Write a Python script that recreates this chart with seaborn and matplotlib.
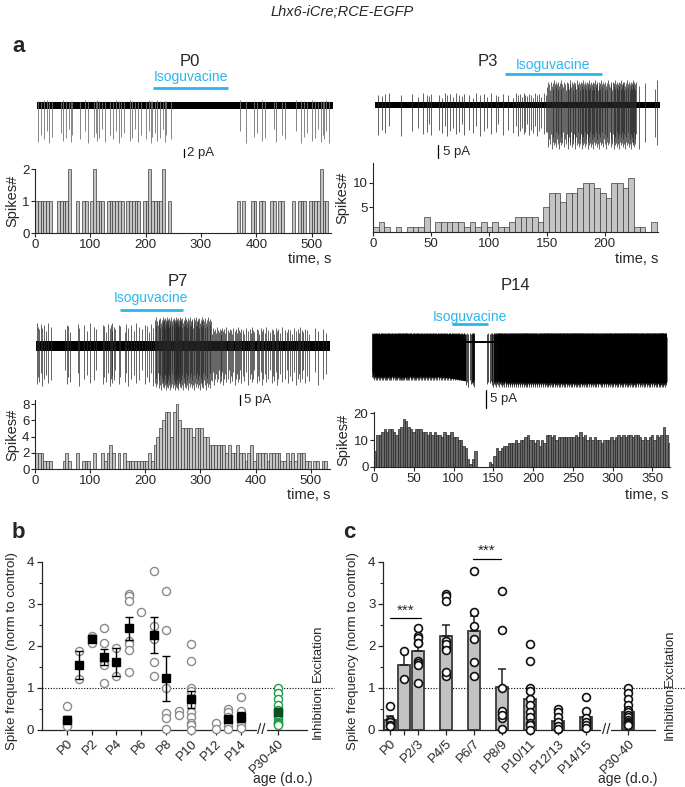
import numpy as np
import pandas as pd
import matplotlib
matplotlib.use('Agg')
import matplotlib.pyplot as plt
import seaborn as sns

sns.set_style('ticks')
plt.rcParams['font.family'] = ['Liberation Sans', 'DejaVu Sans']
narrow = ['Liberation Sans Narrow', 'Liberation Sans', 'DejaVu Sans']

W, H = 685, 787


def px(l, t, r, b):
    # pixel box of the reference -> figure fraction rect
    return [l / W, 1 - b / H, (r - l) / W, (b - t) / H]


# ---------------- panel a: spike histograms (counts per bin) ----------------
p0_bin = 5.0
p0_counts = ([1, 1, 1, 1, 1, 1, 0, 0, 1, 1, 1, 1, 2, 0, 0, 1, 0, 1, 1, 0, 1, 2, 1, 1, 1, 0,
              1, 1, 1, 1, 1, 1, 0, 1, 1, 1, 1, 1, 0, 1, 1, 2, 1, 1, 1, 1, 2, 0, 1]
             + [0] * 24
             + [1, 0, 1, 0, 0, 1, 1, 0, 1, 1, 0, 0, 1, 1, 0, 1, 1, 0, 0, 0, 1, 0, 1, 1, 1, 0,
                1, 1, 1, 1, 2, 1, 1])

p3_bin = 4.9
p3_counts = [1, 2, 1, 0, 1, 0, 1, 1, 1, 3, 0, 2, 2, 2, 2, 2, 1, 2, 1, 2,
             1, 2, 1, 1, 2, 3, 3, 3, 3, 2, 5, 8, 8, 6, 8, 8, 9, 10, 10, 9,
             8, 7, 10, 10, 9, 11, 1, 1, 0, 2]

p7_bin = 5.0
p7_counts = [2, 2, 2, 1, 1, 1, 0, 0, 0, 0, 1, 2, 1, 0, 0, 2, 0, 1, 1, 1,
             0, 2, 0, 0, 2, 1, 2, 3, 2, 0, 2, 0, 2, 1, 1, 1, 1, 1, 1, 1,
             1, 2, 1, 3, 4, 5, 6, 7, 7, 4, 7, 8, 6, 5, 5, 5, 5, 4, 5, 5,
             5, 4, 4, 3, 3, 3, 3, 3, 3, 2, 3, 2, 2, 3, 2, 2, 1, 2, 3, 1,
             2, 2, 2, 2, 1, 2, 2, 2, 2, 1, 1, 2, 1, 2, 1, 2, 2, 2, 1, 1,
             0, 1, 1, 0, 1, 1]

p14_bin = 3.0
p14_counts = [6, 12, 12, 13, 14, 13, 14, 14, 13, 12, 14, 15, 18, 17, 15, 14, 13, 14, 14, 14,
              13, 13, 12, 13, 12, 13, 12, 12, 11, 13, 12, 12, 13, 11, 11, 10, 10, 8, 7, 3,
              1, 3, 6, 0, 0, 0, 0, 0, 2, 1, 4, 7, 6, 7, 8, 8, 9, 9, 9, 10,
              9, 10, 10, 11, 12, 10, 10, 9, 10, 8, 10, 9, 12, 12, 11, 12, 10, 11, 11, 11,
              11, 11, 11, 11, 12, 11, 13, 11, 12, 10, 11, 10, 11, 10, 10, 9, 10, 10, 10, 11,
              10, 11, 12, 11, 12, 11, 12, 12, 11, 12, 12, 11, 10, 11, 10, 11, 12, 10, 12, 11,
              12, 15, 12, 9]

# isoguvacine application windows (s)
iso_p0 = [210, 345]
iso_p3 = [112, 196]
iso_p7 = [153, 267]
iso_p14 = [101, 146]

# spike amplitude spread (relative)
amp_spread = [1.0, 0.82, 0.94, 0.7, 1.05, 0.88, 0.76, 0.97, 0.9, 0.64]
p14_spread = [1.0, 0.95, 1.05, 0.98, 1.09, 0.93, 1.02, 0.97]

# P14 trace envelope (pA)
p14_t1 = [0, 30, 60, 90, 118]
p14_up1 = [2.2, 1.9, 1.7, 1.4, 1.1]
p14_lo1 = [-8.3, -8.9, -9.2, -9.7, -10.8]
p14_t2 = [158, 200, 250, 300, 372]
p14_up2 = [2.5, 1.7, 1.4, 1.4, 1.4]
p14_lo2 = [-10.8, -11.1, -11.4, -11.4, -11.1]

# ---------------- panel b / c data ----------------
b_ages = [0, 1, 2, 3, 4, 5, 6, 7, 8, 9, 10, 12, 13, 14, 17]
b_vals = [
    [0.57, 0.25, 0.20, 0.12, 0.10],
    [1.89, 1.21],
    [2.24, 2.19, 2.07],
    [2.44, 2.08, 1.65, 1.59, 1.55, 1.13],
    [1.95, 1.29],
    [3.24, 3.20, 3.06, 2.12, 2.05, 1.91, 1.39],
    [2.81],
    [3.78, 2.47, 2.16, 1.63, 1.29],
    [3.30, 2.39, 1.01, 0.40, 0.28, 0.02],
    [0.45, 0.36],
    [2.04, 1.65, 1.00, 0.93, 0.75, 0.60, 0.44, 0.30, 0.17, 0.12, 0.00],
    [0.17, 0.02],
    [0.50, 0.44, 0.32, 0.20, 0.10, 0.02],
    [0.78, 0.45, 0.28, 0.20, 0.12, 0.04],
    [1.00, 0.87, 0.73, 0.60, 0.48, 0.42, 0.36, 0.30, 0.25, 0.20, 0.17, 0.15, 0.12],
]
b_mean_ages = [0, 1, 2, 3, 4, 5, 7, 8, 10, 13, 14, 17]
b_ticks = [0, 2, 4, 6, 8, 10, 12, 14, 17]
b_ticklabels = ['P0', 'P2', 'P4', 'P6', 'P8', 'P10', 'P12', 'P14', 'P30-40']

c_groups = ['P0', 'P1', 'P2/3', 'P4/5', 'P6/7', 'P8/9', 'P10/11', 'P12/13', 'P14/15', 'P30-40']
c_pos = [0, 1, 2, 4, 6, 8, 10, 12, 14, 17]
c_members = [[0], [1], [2, 3], [4, 5], [6, 7], [8, 9], [10, 11], [12, 13], [14, 15], [17]]
c_ticklabels = ['P0', '', 'P2/3', 'P4/5', 'P6/7', 'P8/9', 'P10/11', 'P12/13', 'P14/15', 'P30-40']
c_colors = ['#c2c2c2', '#c2c2c2', '#c2c2c2', '#c2c2c2', '#c2c2c2', '#c2c2c2',
            '#b4b4b4', '#8c8c8c', '#8c8c8c', '#1a8a3c']

green = '#1e9a48'
iso_blue = '#29b6ef'


def spike_times(counts, bw):
    t = []
    for i, n in enumerate(counts):
        for k in range(n):
            t.append(i * bw + (k + 0.5) * bw / n)
    return np.array(t)


def draw_spikes(ax, t, edges, depth, height, spread, color, lw):
    idx = np.clip(np.searchsorted(edges, t, side='right') - 1, 0, len(depth) - 1)
    s = np.resize(spread, len(t))
    lo = -np.array(depth)[idx] * s
    hi = np.array(height)[idx] * np.roll(s, 3)
    ax.vlines(t, lo, hi, color=color, lw=lw)


def hist_panel(rect, counts, bw, xlim, ylim, xticks, yticks, color, ec):
    ax = fig.add_axes(rect)
    ax.patch.set_alpha(0)
    n = len(counts)
    hd = pd.DataFrame({'t': (np.arange(n) + 0.5) * bw, 'n': counts})
    sns.histplot(data=hd, x='t', weights='n', binwidth=bw, binrange=(0, n * bw), ax=ax,
                 color=color, edgecolor=ec, linewidth=0.5, alpha=1)
    ax.set_xlim(*xlim)
    ax.set_ylim(*ylim)
    ax.set_xticks(xticks)
    ax.set_yticks(yticks)
    ax.tick_params(labelsize=9.5, length=3, width=0.8, pad=1)
    ax.set_xlabel('')
    ax.set_ylabel('Spikes#', fontsize=10.5, labelpad=2)
    sns.despine(ax=ax)
    return ax


def trace_panel(rect, xlim, ylim):
    ax = fig.add_axes(rect)
    ax.set_xlim(*xlim)
    ax.set_ylim(*ylim)
    ax.axis('off')
    return ax


def iso_bar(ax, win, y_line, y_text):
    ax.plot(win, [y_line, y_line], color=iso_blue, lw=2, clip_on=False,
            solid_capstyle='butt')
    ax.text(np.mean(win), y_text, 'Isoguvacine', color=iso_blue, ha='center',
            va='center', fontsize=10, family=narrow, clip_on=False)


def scale_bar(ax, x, y0, amp, label, dx):
    ax.plot([x, x], [y0, y0 + amp], color='k', lw=0.9, clip_on=False, zorder=6)
    ax.text(x + dx, y0 + amp / 2, label, ha='left', va='center', fontsize=9.5,
            clip_on=False, zorder=6)


fig = plt.figure(figsize=(6.85, 7.87), dpi=100)

fig.text(0.5, 1 - 12 / H, 'Lhx6-iCre;RCE-EGFP', ha='center', va='center',
         style='italic', fontsize=10.5, family=narrow)
fig.text(12 / W, 1 - 47 / H, 'a', fontsize=16, weight='bold', va='center')
fig.text(12 / W, 1 - 532 / H, 'b', fontsize=16, weight='bold', va='center')
fig.text(343 / W, 1 - 532 / H, 'c', fontsize=16, weight='bold', va='center')

for lab, x, y in [('P0', 190, 62), ('P3', 488, 62), ('P7', 178, 282), ('P14', 515, 285)]:
    fig.text(x / W, 1 - y / H, lab, ha='center', va='center', fontsize=12, family=narrow)

# ---- P0 ----
ax = trace_panel(px(37, 92, 333, 150), (0, 535), (-11.1, 3.4))
draw_spikes(ax, spike_times(p0_counts, p0_bin), [0], [9.0], [1.3], amp_spread, '0.45', 0.6)
ax.fill_between([0, 535], -0.9, 0.9, color='k', lw=0)
iso_bar(ax, iso_p0, 4.4, 7.1)
scale_bar(ax, 266, -12.9, 2, '2 pA', 5)
ax = hist_panel(px(35, 169, 331, 233), p0_counts, p0_bin, (0, 535), (0, 2),
                range(0, 501, 100), [0, 1, 2], '#c4c4c4', '#3c3c3c')
fig.text(331 / W, 1 - 259 / H, 'time, s', ha='right', va='center', fontsize=10.5)

# ---- P3 ----
ax = trace_panel(px(375, 65, 660, 155), (0, 246), (-19.2, 15.4))
draw_spikes(ax, spike_times(p3_counts, p3_bin), [0, 148], [11.5, 16.0], [4.5, 9.0],
            amp_spread, '0.15', 0.5)
ax.fill_between([0, 246], -1.2, 1.2, color='k', lw=0)
iso_bar(ax, iso_p3, 11.9, 15.4)
scale_bar(ax, 54.4, -20.4, 5, '5 pA', 4)
ax = hist_panel(px(373, 163, 658, 232), p3_counts, p3_bin, (0, 246), (0, 14),
                range(0, 201, 50), [5, 10], '#c4c4c4', '#3c3c3c')
fig.text(658 / W, 1 - 259 / H, 'time, s', ha='right', va='center', fontsize=10.5)

# ---- P7 ----
ax = trace_panel(px(36, 312, 330, 392), (0, 535), (-23, 17))
draw_spikes(ax, spike_times(p7_counts, p7_bin), [0, 215, 320], [19.0, 21.0, 18.5],
            [11, 14, 9], amp_spread, '0.15', 0.5)
ax.fill_between([0, 535], -2.7, 2.7, color='k', lw=0)
iso_bar(ax, iso_p7, 18, 24)
scale_bar(ax, 371, -29.5, 5, '5 pA', 8)
ax = hist_panel(px(35, 400, 330, 469), p7_counts, p7_bin, (0, 535), (0, 8.5),
                range(0, 501, 100), [0, 2, 4, 6, 8], '#c4c4c4', '#3c3c3c')
fig.text(330 / W, 1 - 495 / H, 'time, s', ha='right', va='center', fontsize=10.5)

# ---- P14 ----
ax = trace_panel(px(372, 328, 667, 388), (0, 372), (-12.8, 3.9))
draw_spikes(ax, spike_times(p14_counts, p14_bin), [0, 118], [9.6, 11.4], [2.3, 2.4],
            p14_spread, 'k', 0.5)
ax.fill_between(p14_t1, p14_lo1, p14_up1, color='k', lw=0)
ax.fill_between(p14_t2, p14_lo2, p14_up2, color='k', lw=0)
ax.fill_between([118, 158], -0.4, 0.4, color='k', lw=0)
iso_bar(ax, iso_p14, 5.0, 6.9)
scale_bar(ax, 143.8, -18.3, 5, '5 pA', 5)
ax = hist_panel(px(374, 412, 670, 467), p14_counts, p14_bin, (0, 372), (0, 20.5),
                range(0, 351, 50), [0, 10, 20], '#6a6a6a', '#262626')
fig.text(668 / W, 1 - 495 / H, 'time, s', ha='right', va='center', fontsize=10.5)

# ---------------- long-form tables ----------------
df_b = pd.DataFrame({'age': np.repeat(b_ages, [len(v) for v in b_vals]),
                     'value': np.concatenate(b_vals)})
age_to_pos = {a: p for p, m in zip(c_pos, c_members) for a in m}
age_to_grp = {a: g for g, m in zip(c_groups, c_members) for a in m}
df_c = df_b.assign(pos=df_b['age'].map(age_to_pos), group=df_b['age'].map(age_to_grp))


def style_freq_axis(ax, xlim, ticks, labels, dot_to):
    ax.set_xlim(*xlim)
    ax.set_ylim(0, 4)
    ax.set_yticks([0, 1, 2, 3, 4])
    ax.set_yticks(np.arange(0.5, 4, 1), minor=True)
    ax.set_xticks(ticks)
    ax.set_xticklabels(labels, rotation=45, ha='right', rotation_mode='anchor')
    ax.tick_params(labelsize=9.5, length=3.5, width=0.9, pad=2)
    ax.tick_params(axis='y', which='minor', length=2, width=0.8)
    ax.set_xlabel('')
    ax.set_ylabel('Spike frequency (norm to control)', fontsize=9.6, labelpad=4)
    ax.yaxis.set_label_coords(-0.09, 0.47)
    for s in ['left', 'bottom']:
        ax.spines[s].set_linewidth(0.9)
    sns.despine(ax=ax)
    ax.plot([0, dot_to], [1, 1], ls=(0, (1, 1.5)), color='k', lw=0.8,
            transform=ax.get_yaxis_transform(), clip_on=False, zorder=0)


# ---------------- panel b ----------------
axb = fig.add_axes(px(42, 562, 307, 730))
young = df_b[df_b['age'] < 17]
adult = df_b[df_b['age'] == 17]
sns.scatterplot(data=young, x='age', y='value', ax=axb, s=34, facecolor='white',
                edgecolor='#8a8a8a', linewidth=1.0, clip_on=False, zorder=3)
sns.scatterplot(data=adult, x='age', y='value', ax=axb, s=34, facecolor='white',
                edgecolor=green, linewidth=1.0, clip_on=False, zorder=3)
stats = df_b.groupby('age')['value'].agg(['mean', 'sem']).loc[b_mean_ages]
young_s = stats[stats.index < 17]
axb.errorbar(young_s.index, young_s['mean'], yerr=young_s['sem'], fmt='s', color='k',
             ms=5.5, capsize=3, elinewidth=1.0, capthick=1.0, zorder=4)
adult_s = stats[stats.index == 17]
axb.errorbar(adult_s.index, adult_s['mean'], yerr=adult_s['sem'], fmt='s',
             color='#0d4f24', ms=5.5, capsize=3, elinewidth=1.0, capthick=1.0, zorder=4)
style_freq_axis(axb, (-2.0, 19.35), b_ticks, b_ticklabels, 1.1)
axb.text(15.7, 0, '//', ha='center', va='center', fontsize=11,
         bbox=dict(fc='white', ec='none', pad=0.5), zorder=5, clip_on=False)
fig.text(283 / W, 1 - 779 / H, 'age (d.o.)', ha='center', va='center', fontsize=10)
fig.text(318 / W, 1 - 653 / H, 'Excitation', rotation=90, ha='center', va='center', fontsize=9.5)
fig.text(318 / W, 1 - 712 / H, 'Inhibition', rotation=90, ha='center', va='center', fontsize=9.5)

# ---------------- panel c ----------------
axc = fig.add_axes(px(383, 562, 655, 730))
sns.barplot(data=df_c, x='pos', y='value', hue='group', hue_order=c_groups,
            palette=c_colors, native_scale=True, dodge=False, errorbar=None,
            width=0.85, edgecolor='#3a3a3a', linewidth=1.3, legend=False, ax=axc, zorder=2)
cstats = df_c.groupby('pos')['value'].agg(['mean', 'sem'])
axc.errorbar(cstats.index, cstats['mean'], yerr=[np.zeros(len(cstats)), cstats['sem']],
             fmt='none', ecolor='#222222', capsize=3, elinewidth=1.1, capthick=1.1, zorder=3)
sns.scatterplot(data=df_c, x='pos', y='value', ax=axc, s=32, facecolor='white',
                edgecolor='#111111', linewidth=1.2, clip_on=False, zorder=4, legend=False)
style_freq_axis(axc, (-0.5, 18.9), c_pos, c_ticklabels, 1.11)
axc.text(15.4, 0, '//', ha='center', va='center', fontsize=11,
         bbox=dict(fc='white', ec='none', pad=0.5), zorder=5, clip_on=False)
for x0, x1, y in [(0, 2.2, 2.66), (5.9, 7.9, 4.07)]:
    axc.plot([x0, x1], [y, y], color='k', lw=0.9, clip_on=False)
    axc.text((x0 + x1) / 2, y + 0.02, '***', ha='center', va='bottom', fontsize=11,
             clip_on=False)
fig.text(628 / W, 1 - 779 / H, 'age (d.o.)', ha='center', va='center', fontsize=10)
fig.text(670 / W, 1 - 658 / H, 'Excitation', rotation=90, ha='center', va='center', fontsize=9.5)
fig.text(670 / W, 1 - 713 / H, 'Inhibition', rotation=90, ha='center', va='center', fontsize=9.5)

plt.savefig('out.png', dpi=100)
